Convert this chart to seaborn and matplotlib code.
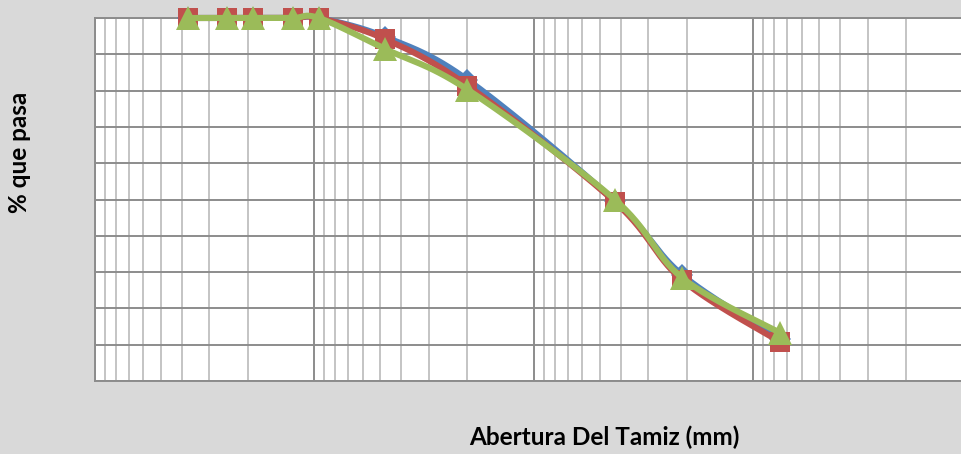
import numpy as np
import pandas as pd
import matplotlib
matplotlib.use("Agg")
import matplotlib.pyplot as plt
from matplotlib.ticker import LogLocator, NullFormatter
import seaborn as sns

# Sieve openings (mm) and cumulative percent passing for three samples
aberturas = [37.5, 25.0, 19.0, 12.5, 9.5, 4.75, 2.0, 0.425, 0.21, 0.075]
muestra_1 = [100, 100, 100, 100, 100, 94.8, 83.0, 49.5, 29.2, 11.5]
muestra_2 = [100, 100, 100, 100, 100, 94.2, 81.4, 49.3, 27.8, 10.7]
muestra_3 = [100, 100, 100, 100, 100, 91.5, 80.3, 49.9, 28.4, 13.2]

series = [
    ("Muestra 1", muestra_1, "#4F81BD", "D", 11.5),
    ("Muestra 2", muestra_2, "#C0504D", "s", 15),
    ("Muestra 3", muestra_3, "#9BBB59", "^", 17),
]

sns.set_style("white")
plt.rcParams["font.family"] = ["Lato", "DejaVu Sans"]

W, H = 961, 454
fig = plt.figure(figsize=(W / 100, H / 100), dpi=100)
fig.patch.set_facecolor("#D9D9D9")

left, right, top, bottom = 94.5, 972.5, 18, 381
ax = fig.add_axes([left / W, 1 - bottom / H, (right - left) / W, (bottom - top) / H])
ax.set_facecolor("white")

ax.set_xscale("log")
ax.set_xlim(100, 0.01)
ax.set_ylim(0, 100)

# pixel scale used for the smoothed (Bezier) curves, as in spreadsheet charts
px_dec = (right - left) / 4.0
px_unit = (bottom - top) / 100.0


def smooth(xs, ys, n=30):
    u = np.log10(np.asarray(xs, float)) * px_dec
    v = np.asarray(ys, float) * px_unit
    P = np.column_stack([u, v])
    m = len(P)
    out = [P[0]]
    for i in range(m - 1):
        p0 = P[i - 1] if i > 0 else P[i]
        p1 = P[i]
        p2 = P[i + 1]
        p3 = P[i + 2] if i + 2 < m else P[i + 1]
        c1 = p1 + (p2 - p0) / 6.0
        c2 = p2 - (p3 - p1) / 6.0
        t = np.linspace(0, 1, n)[1:, None]
        seg = ((1 - t) ** 3) * p1 + 3 * ((1 - t) ** 2) * t * c1 + 3 * (1 - t) * t ** 2 * c2 + t ** 3 * p2
        out.extend(seg)
    out = np.array(out)
    return 10 ** (out[:, 0] / px_dec), out[:, 1] / px_unit


for name, vals, color, marker, ms in series:
    sx, sy = smooth(aberturas, vals)
    curve = pd.DataFrame({"abertura": sx, "pasa": sy})
    sns.lineplot(data=curve, x="abertura", y="pasa", sort=False, estimator=None,
                 color=color, linewidth=4.4, ax=ax, zorder=3, clip_on=False)
    ax.plot(aberturas, vals, linestyle="none", marker=marker, markersize=ms,
            color=color, markeredgewidth=0, zorder=3, clip_on=False)

# logarithmic grid
ax.xaxis.set_major_locator(LogLocator(base=10, numticks=10))
ax.xaxis.set_minor_locator(LogLocator(base=10, subs=np.arange(2, 10), numticks=100))
ax.xaxis.set_major_formatter(NullFormatter())
ax.xaxis.set_minor_formatter(NullFormatter())
ax.set_yticks(np.arange(0, 101, 10))
ax.set_yticklabels([])
ax.tick_params(which="both", length=0)
ax.grid(True, which="major", axis="both", color="#8C8C8C", linewidth=1.4)
ax.grid(True, which="minor", axis="x", color="#B4B4B4", linewidth=1.1)
ax.set_axisbelow(True)
for s in ax.spines.values():
    s.set_color("#8C8C8C")
    s.set_linewidth(1.4)
ax.set_xlabel("")
ax.set_ylabel("")

fig.text(20 / W, 1 - 152 / H, "% que pasa", rotation=90, ha="center", va="center",
         fontsize=17.5, fontweight="bold", color="black")
fig.text(604 / W, 1 - 437 / H, "Abertura Del Tamiz (mm)", ha="center", va="center",
         fontsize=17.5, fontweight="bold", color="black")

fig.savefig("out.png", dpi=100, facecolor=fig.get_facecolor())
